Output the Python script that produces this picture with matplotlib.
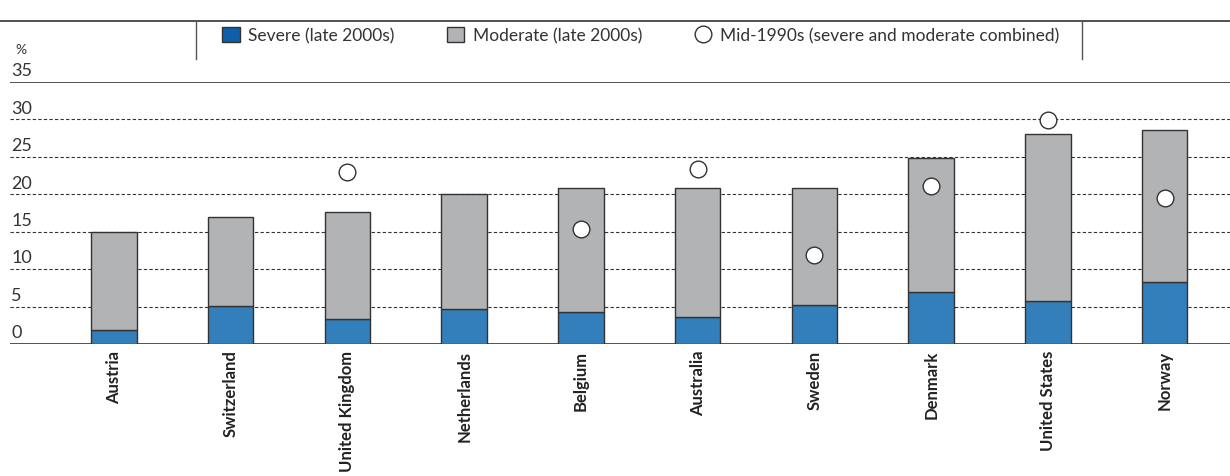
import matplotlib.pyplot as plt
from matplotlib.lines import Line2D
from matplotlib.patches import Patch
import numpy as np

plt.rcParams['font.family'] = ['Lato', 'DejaVu Sans']

countries = ['Austria', 'Switzerland', 'United Kingdom', 'Netherlands', 'Belgium',
             'Australia', 'Sweden', 'Denmark', 'United States', 'Norway']
severe = [1.9, 5.1, 3.4, 4.7, 4.3, 3.6, 5.2, 7.0, 5.8, 8.3]
total = [14.9, 16.9, 17.6, 20.0, 20.9, 20.9, 20.8, 24.8, 28.1, 28.6]
mid90s = [np.nan, np.nan, 23.0, np.nan, 15.3, 23.4, 11.9, 21.1, 29.9, 19.5]
yticks = [0, 5, 10, 15, 20, 25, 30, 35]

severe_color = '#337fbb'
severe_legend = '#0f5fa8'
moderate_color = '#b2b3b5'
edge_color = '#333333'

moderate = [t - s for t, s in zip(total, severe)]
x = np.arange(len(countries))

fig = plt.figure(figsize=(12.3, 4.77), dpi=100)
ax = fig.add_axes([10 / 1230, 132 / 477, 1220 / 1230, 262 / 477])

ax.bar(x, severe, width=0.39, color=severe_color, edgecolor=edge_color, linewidth=1, zorder=3)
ax.bar(x, moderate, width=0.39, bottom=severe, color=moderate_color, edgecolor=edge_color,
       linewidth=1, zorder=3)
ax.plot(x, mid90s, 'o', markersize=12, markerfacecolor='white', markeredgecolor=edge_color,
        markeredgewidth=1, linestyle='none', zorder=4)

ax.set_xlim(-0.89, 9.56)
ax.set_ylim(0, 35)
ax.set_yticks(yticks)
ax.set_yticklabels([])
ax.tick_params(axis='y', length=0)
for t in yticks:
    if t in (0, 35):
        ax.axhline(t, color='#333333', linewidth=1.2, zorder=2)
    else:
        ax.axhline(t, color='#333333', linewidth=0.8, linestyle=(0, (3, 2)), zorder=1)
    ax.text(0.001, t + 0.5, str(t), transform=ax.get_yaxis_transform(), fontsize=13,
            color='#333333', ha='left', va='bottom')
ax.text(0.004, 38.6, '%', transform=ax.get_yaxis_transform(), fontsize=10, color='#333333',
        ha='left', va='bottom')

ax.set_xticks(x)
ax.set_xticklabels(countries, rotation=90, fontsize=12, fontweight='bold', color='#222222')
ax.tick_params(axis='x', length=0, pad=4)
for s in ax.spines.values():
    s.set_visible(False)

# header band with legend
fig.add_artist(Line2D([0, 1], [1 - 22 / 477, 1 - 22 / 477], color='#333333', linewidth=1.2))
for px in (196, 1082):
    fig.add_artist(Line2D([px / 1230, px / 1230], [1 - 22 / 477, 1 - 60 / 477],
                          color='#555555', linewidth=1))

handles = [Patch(facecolor=severe_legend, edgecolor=edge_color),
           Patch(facecolor=moderate_color, edgecolor=edge_color),
           Line2D([], [], marker='o', linestyle='none', markersize=12, markerfacecolor='white',
                  markeredgecolor=edge_color)]
labels = ['Severe (late 2000s)', 'Moderate (late 2000s)',
          'Mid-1990s (severe and moderate combined)']
fig.legend(handles, labels, loc='center', bbox_to_anchor=(641 / 1230, 1 - 36 / 477), ncol=3,
           frameon=False, fontsize=12.5, handlelength=1.0, handleheight=1.0,
           columnspacing=3.0, handletextpad=0.5, labelcolor='#333333')

fig.savefig('out.png', dpi=100)
